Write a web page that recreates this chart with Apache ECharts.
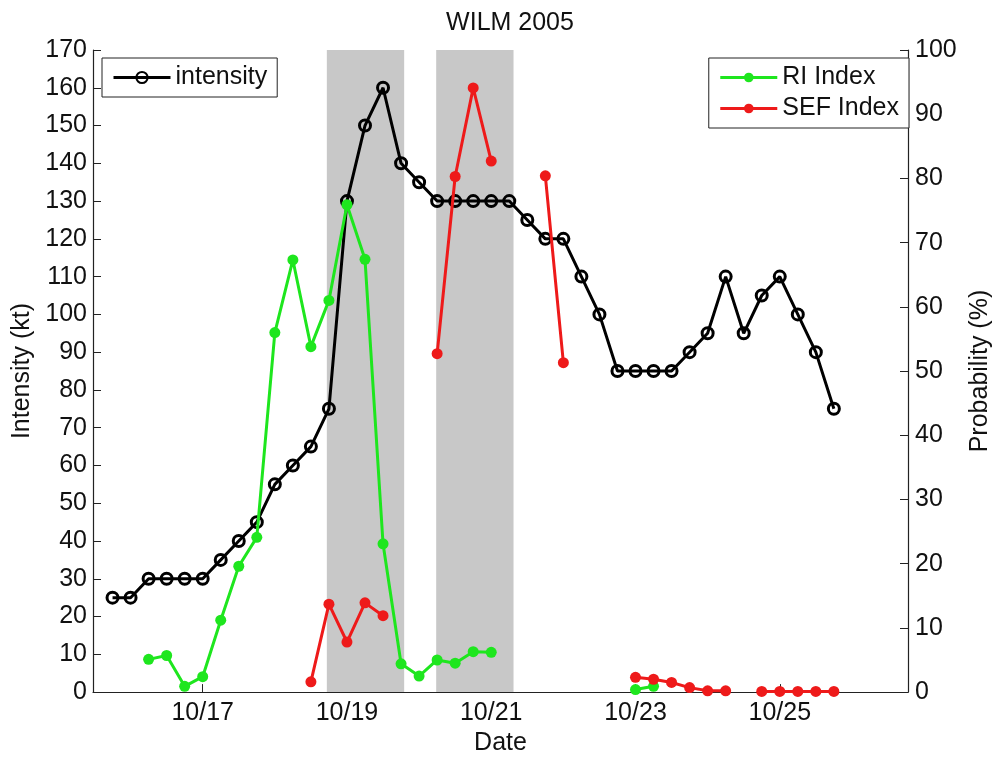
<!DOCTYPE html>
<html>
<head>
<meta charset="utf-8">
<script src="https://cdn.jsdelivr.net/npm/echarts@6/dist/echarts.min.js"></script>
<style>
html,body{margin:0;padding:0;background:#fff;}
#chart{width:1001px;height:761px;}
</style>
</head>
<body>
<div id="chart"></div>
<script>
// ---------- data ----------
const chartTitle = 'WILM 2005';
const xAxisName = 'Date';
const leftAxisName = 'Intensity (kt)';
const rightAxisName = 'Probability (%)';
const xTickDays = [17, 19, 21, 23, 25];          // October day numbers shown as 10/DD
const xRange = ['10/15 11:30', '10/26 18:40'];

const intensityTimes = [
  '10/15 18','10/16 00','10/16 06','10/16 12','10/16 18',
  '10/17 00','10/17 06','10/17 12','10/17 18',
  '10/18 00','10/18 06','10/18 12','10/18 18',
  '10/19 00','10/19 06','10/19 12','10/19 18',
  '10/20 00','10/20 06','10/20 12','10/20 18',
  '10/21 00','10/21 06','10/21 12','10/21 18',
  '10/22 00','10/22 06','10/22 12','10/22 18',
  '10/23 00','10/23 06','10/23 12','10/23 18',
  '10/24 00','10/24 06','10/24 12','10/24 18',
  '10/25 00','10/25 06','10/25 12','10/25 18'
];
const intensityKt = [
  25, 25, 30, 30, 30,
  30, 35, 40, 45,
  55, 60, 65, 75,
  130, 150, 160, 140,
  135, 130, 130, 130,
  130, 130, 125, 120,
  120, 110, 100, 85,
  85, 85, 85, 90,
  95, 110, 95, 105,
  110, 100, 90, 75
];

// null = break in the line
const riTimes = [
  '10/16 06','10/16 12','10/16 18',
  '10/17 00','10/17 06','10/17 12','10/17 18',
  '10/18 00','10/18 06','10/18 12','10/18 18',
  '10/19 00','10/19 06','10/19 12','10/19 18',
  '10/20 00','10/20 06','10/20 12','10/20 18',
  '10/21 00','10/22 00',
  '10/23 00','10/23 06'
];
const riProb = [
  5.1, 5.7, 0.9,
  2.4, 11.2, 19.6, 24.1,
  56.0, 67.3, 53.8, 61.0,
  75.9, 67.4, 23.1, 4.4,
  2.5, 5.0, 4.5, 6.3,
  6.2, null,
  0.4, 0.9
];

const sefTimes = [
  '10/18 12','10/18 18','10/19 00','10/19 06','10/19 12',
  '10/20 00',
  '10/20 06','10/20 12','10/20 18','10/21 00',
  '10/21 12',
  '10/21 18','10/22 00',
  '10/22 12',
  '10/23 00','10/23 06','10/23 12','10/23 18','10/24 00','10/24 06',
  '10/24 12',
  '10/24 18','10/25 00','10/25 06','10/25 12','10/25 18'
];
const sefProb = [
  1.6, 13.7, 7.8, 13.9, 11.9,
  null,
  52.7, 80.3, 94.1, 82.7,
  null,
  80.4, 51.3,
  null,
  2.3, 2.0, 1.5, 0.7, 0.2, 0.2,
  null,
  0.1, 0.1, 0.1, 0.1, 0.1
];

const shadedStart = ['10/18 17:18', '10/20 05:41'];
const shadedEnd   = ['10/19 19:02', '10/21 07:25'];

// ---------- helpers ----------
function toDay(s) {
  const parts = s.split(' ');
  const day = +parts[0].split('/')[1];
  const hm = parts[1].split(':');
  const h = +hm[0] + (hm[1] ? +hm[1] / 60 : 0);
  return day + h / 24;
}
function pairs(times, vals) {
  return times.map((t, i) => [toDay(t), vals[i] === null ? '-' : vals[i]]);
}

const FONT = '"Liberation Sans", Arial, Helvetica, sans-serif';
const TXT = '#111';
const AX = '#222';
const GREEN = '#1ee61e';
const RED = '#ee1a1a';
const FS = 25;

const chart = echarts.init(document.getElementById('chart'));
chart.setOption({
  animation: false,
  backgroundColor: '#fff',
  textStyle: { fontFamily: FONT },
  title: {
    text: chartTitle,
    left: 505, top: 6, textAlign: 'center',
    textStyle: { fontSize: 25, fontWeight: 'normal', color: TXT, fontFamily: FONT }
  },
  grid: { left: 93, right: 86, top: 50, bottom: 60, containLabel: false },
  legend: [
    {
      data: ['intensity'],
      left: 102, top: 58, orient: 'vertical',
      padding: [5, 10, 5, 10],
      itemWidth: 57, itemHeight: 14, itemGap: 2,
      lineStyle: { width: 3 },
      borderColor: AX, borderWidth: 1, backgroundColor: '#fff',
      textStyle: { fontSize: 25, color: TXT, fontFamily: FONT, lineHeight: 29 },
      selectedMode: false
    },
    {
      data: ['RI Index', 'SEF Index'],
      right: 92, top: 58, orient: 'vertical',
      padding: [5, 10, 5, 10],
      itemWidth: 57, itemHeight: 12, itemGap: 2,
      lineStyle: { width: 3 },
      borderColor: AX, borderWidth: 1, backgroundColor: '#fff',
      textStyle: { fontSize: 25, color: TXT, fontFamily: FONT, lineHeight: 29 },
      selectedMode: false
    }
  ],
  xAxis: {
    type: 'value',
    min: toDay(xRange[0]), max: toDay(xRange[1]),
    splitLine: { show: false },
    axisLine: { onZero: false, lineStyle: { color: AX, width: 1.2 } },
    axisTick: { inside: true, length: 8, customValues: xTickDays, lineStyle: { color: AX } },
    axisLabel: {
      customValues: xTickDays,
      formatter: v => '10/' + v,
      fontSize: FS, color: TXT, margin: 9, fontFamily: FONT
    },
    name: xAxisName, nameLocation: 'middle', nameGap: 34,
    nameTextStyle: { fontSize: FS, color: TXT, fontFamily: FONT }
  },
  yAxis: [
    {
      type: 'value', position: 'left', min: 0, max: 170, interval: 10,
      splitLine: { show: false },
      axisLine: { show: true, lineStyle: { color: AX, width: 1.2 } },
      axisTick: { show: true, inside: true, length: 8, lineStyle: { color: AX } },
      axisLabel: { fontSize: FS, color: TXT, margin: 6, fontFamily: FONT },
      name: leftAxisName, nameLocation: 'middle', nameGap: 56, nameRotate: 90,
      nameTextStyle: { fontSize: FS, color: TXT, fontFamily: FONT }
    },
    {
      type: 'value', position: 'right', min: 0, max: 100, interval: 10,
      splitLine: { show: false },
      axisLine: { show: true, lineStyle: { color: AX, width: 1.2 } },
      axisTick: { show: true, inside: true, length: 8, lineStyle: { color: AX } },
      axisLabel: { fontSize: FS, color: TXT, margin: 7, fontFamily: FONT },
      name: rightAxisName, nameLocation: 'middle', nameGap: 60, nameRotate: 90,
      nameTextStyle: { fontSize: FS, color: TXT, fontFamily: FONT }
    }
  ],
  series: [
    {
      name: 'shade', type: 'line', data: [], silent: true, z: 0,
      markArea: {
        silent: true,
        itemStyle: { color: '#c8c8c8' },
        data: shadedStart.map((s, i) => [{ xAxis: toDay(s) }, { xAxis: toDay(shadedEnd[i]) }])
      }
    },
    {
      name: 'intensity', type: 'line', yAxisIndex: 0, z: 3,
      data: pairs(intensityTimes, intensityKt),
      symbol: 'circle', symbolSize: 11,
      lineStyle: { color: '#000', width: 3 },
      itemStyle: { color: 'rgba(255,255,255,0)', borderColor: '#000', borderWidth: 3 },
      emphasis: { disabled: true }
    },
    {
      name: 'RI Index', type: 'line', yAxisIndex: 1, z: 4,
      data: pairs(riTimes, riProb), connectNulls: false,
      symbol: 'circle', symbolSize: 11,
      lineStyle: { color: GREEN, width: 3 },
      itemStyle: { color: GREEN },
      emphasis: { disabled: true }
    },
    {
      name: 'SEF Index', type: 'line', yAxisIndex: 1, z: 5,
      data: pairs(sefTimes, sefProb), connectNulls: false,
      symbol: 'circle', symbolSize: 11,
      lineStyle: { color: RED, width: 3 },
      itemStyle: { color: RED },
      emphasis: { disabled: true }
    }
  ]
});
</script>
</body>
</html>
